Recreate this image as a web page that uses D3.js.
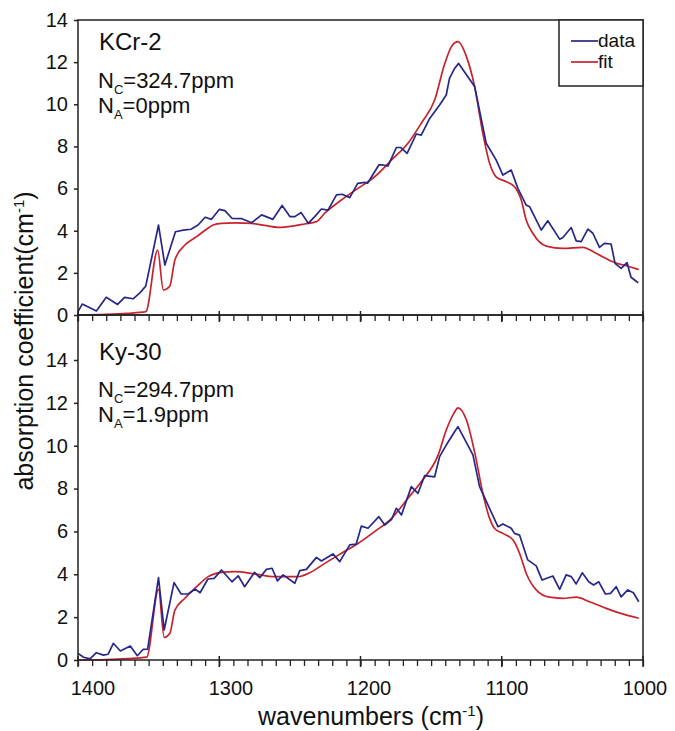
<!DOCTYPE html>
<html>
<head>
<meta charset="utf-8">
<script src="https://cdn.jsdelivr.net/npm/d3@7"></script>
<style>
  body { margin: 0; background: #fff; }
  text { font-family: "Liberation Sans", Arial, sans-serif; fill: #111; }
</style>
</head>
<body>
<div id="chart"></div>
<script>

// wavenumber ticks
var majorTicks = [1400, 1300, 1200, 1100, 1000];
var yTicks = [0, 2, 4, 6, 8, 10, 12, 14];

// KCr-2 : measured spectrum [wavenumber, absorption]
var kcr2Data = [[1400,0.16],[1397,0.52],[1387,0.19],[1380,0.84],[1372,0.5],[1367,0.84],[1361,0.77],[1356,1.06],[1352,1.38],[1343,4.27],[1338.5,2.37],[1331,3.95],[1325.5,4.03],[1320,4.07],[1315,4.27],[1310,4.64],[1305.5,4.54],[1300,5.01],[1296,4.95],[1291,4.59],[1284,4.57],[1277,4.38],[1270,4.75],[1262,4.54],[1255.5,5.2],[1250,4.67],[1246.5,4.67],[1242,4.86],[1237,4.35],[1232.4,4.67],[1227.7,5.03],[1223,4.98],[1217,5.7],[1213,5.73],[1207.6,5.57],[1202,6.25],[1197,6.29],[1195,6.25],[1187,7.12],[1184,7.12],[1180.6,7.07],[1174.6,7.95],[1171.6,7.95],[1167,7.67],[1160.5,8.59],[1157,8.54],[1151,9.33],[1144,9.97],[1139.3,10.44],[1137,11.23],[1133.4,11.7],[1130.5,11.94],[1125,11.4],[1119.2,10.84],[1111,8.15],[1104,7.36],[1099.2,6.64],[1093.3,6.88],[1088.6,6.01],[1082.7,5.22],[1080.3,5.14],[1072,4.03],[1067.4,4.47],[1059,3.6],[1056.7,3.68],[1050.8,4.15],[1047.3,3.52],[1043.8,3.48],[1039,4.08],[1035.5,3.88],[1030.8,3.21],[1027.3,3.4],[1022.6,3.37],[1019.8,2.45],[1015.5,2.21],[1011.3,2.49],[1008.5,1.79],[1003.4,1.53]];

// KCr-2 : fit
var kcr2Fit = [[1400,0],[1380,0.03],[1365,0.08],[1352,0.16],[1343.6,3.08],[1339.6,1.19],[1335,1.38],[1331.4,2.61],[1324.3,3.32],[1316,3.72],[1309,4.07],[1304.3,4.27],[1298.4,4.35],[1289,4.37],[1277,4.35],[1267.8,4.25],[1258.3,4.16],[1248,4.22],[1239.5,4.32],[1231.2,4.43],[1225.3,4.83],[1213.5,5.46],[1201.8,6.01],[1190,6.56],[1178,7.36],[1166.4,8.15],[1157,9.1],[1147.5,10.2],[1140.5,11.9],[1135,12.8],[1131,12.97],[1125,12.26],[1119.2,10.84],[1113.4,8.62],[1108.6,7.2],[1104,6.56],[1097,6.33],[1091,6.09],[1086.2,5.46],[1082.7,4.51],[1078,3.88],[1068.5,3.27],[1056.7,3.16],[1042.6,3.21],[1033,2.92],[1021.4,2.53],[1009.6,2.29],[1003,2.16]];

// Ky-30 : measured spectrum
var ky30Data = [[1400,0.31],[1396,0.13],[1391.5,0.05],[1387,0.34],[1382,0.23],[1378.6,0.27],[1375,0.78],[1370,0.42],[1363,0.65],[1358,0.2],[1353.8,0.5],[1350.7,0.51],[1343,3.84],[1339,1.4],[1332,3.61],[1327,3.08],[1322,3.08],[1317,3.31],[1313.6,3.14],[1308,3.78],[1303.6,3.81],[1298.4,4.2],[1291,3.65],[1286.6,3.93],[1282,3.42],[1275,4.09],[1271.3,3.84],[1266.6,4.23],[1262.6,4.28],[1258.8,3.69],[1254.8,3.97],[1246.5,3.58],[1243,4.17],[1238.3,4.23],[1231.2,4.79],[1227.7,4.62],[1219.5,4.95],[1214.7,4.59],[1207.6,5.37],[1203,5.41],[1199.4,6.25],[1194.7,6.15],[1187,6.69],[1182.8,6.3],[1178,6.56],[1174.6,7.08],[1171,6.77],[1164,8.09],[1159.3,7.78],[1154.6,8.6],[1147.5,8.55],[1144,9.49],[1139.3,10.03],[1133.4,10.65],[1131,10.89],[1120.4,9.57],[1115.7,8.09],[1102.7,6.22],[1099.2,6.35],[1093.3,6.15],[1091,5.91],[1087.4,5.83],[1081.6,4.67],[1075.6,4.39],[1071.4,3.73],[1063.8,3.92],[1059,3.3],[1054.4,3.97],[1050.8,3.89],[1047.3,3.55],[1043,4.07],[1038.4,3.65],[1035,3.5],[1031.3,3.65],[1026.6,3.08],[1023,3.11],[1019,3.42],[1015.5,2.95],[1010.8,3.27],[1006.8,3.14],[1003,2.72]];

// Ky-30 : fit
var ky30Fit = [[1400,0],[1380,0.02],[1365,0.06],[1351.4,0.13],[1343,3.3],[1339,1.06],[1335,1.24],[1331.4,2.33],[1324.3,2.88],[1316,3.42],[1307.8,3.89],[1298.4,4.09],[1289,4.12],[1275,4.02],[1260.7,3.89],[1244.2,3.89],[1236,4.07],[1225.3,4.51],[1213.5,4.98],[1201.8,5.44],[1190,5.99],[1178,6.61],[1166.4,7.55],[1157,8.32],[1145,9.57],[1139.3,10.73],[1134,11.5],[1131,11.77],[1125,11.2],[1119,9.64],[1113.4,7.78],[1108.6,6.61],[1105.2,6.15],[1099.2,5.91],[1092,5.6],[1087.4,4.98],[1082.7,4.05],[1075.6,3.27],[1066.3,2.93],[1056.7,2.88],[1047.3,2.93],[1038,2.72],[1026,2.41],[1014.4,2.15],[1003,1.95]];

var panels = [
    {name: "KCr-2", nc: "324.7ppm", na: "0ppm", data: kcr2Data, fit: kcr2Fit, yMax: 14, top: 20, bottom: 315},
    {name: "Ky-30", nc: "294.7ppm", na: "1.9ppm", data: ky30Data, fit: ky30Fit, yMax: 16.1, top: 315, bottom: 660}
];

var width = 675,
    height = 731,
    left = 78,
    right = 643,
    dataColor = "#27278a",
    fitColor = "#c8222c",
    axisColor = "#222";

var svg = d3.select("#chart").append("svg")
    .attr("width", width)
    .attr("height", height);

var x = d3.scaleLinear()
    .domain([1400, 1000])
    .range([left, right]);

// the tick labels in the original sit a little off their ticks
var xLabel = d3.scaleLinear()
    .domain([1400, 1000])
    .range([93, 645]);

panels.forEach(function(p, i) {
    var y = d3.scaleLinear()
        .domain([0, p.yMax])
        .range([p.bottom, p.top]);

    var g = svg.append("g").attr("class", "panel");

    var line = d3.line()
        .x(function(d) { return x(d[0]); })
        .y(function(d) { return y(d[1]); });

    g.append("path")
        .datum(p.fit)
        .attr("fill", "none")
        .attr("stroke", fitColor)
        .attr("stroke-width", 1.7)
        .attr("d", line.curve(d3.curveMonotoneX));

    g.append("path")
        .datum(p.data)
        .attr("fill", "none")
        .attr("stroke", dataColor)
        .attr("stroke-width", 1.7)
        .attr("stroke-linejoin", "round")
        .attr("d", line.curve(d3.curveLinear));

    // frame
    g.append("rect")
        .attr("x", left)
        .attr("y", p.top)
        .attr("width", right - left)
        .attr("height", p.bottom - p.top)
        .attr("fill", "none")
        .attr("stroke", axisColor)
        .attr("stroke-width", 1.5);

    var yAxis = g.append("g")
        .attr("transform", "translate(" + left + ",0)")
        .call(d3.axisLeft(y).tickValues(yTicks).tickSize(4).tickPadding(6));
    yAxis.select(".domain").remove();
    yAxis.selectAll("line").attr("stroke", axisColor).attr("stroke-width", 1.5);
    yAxis.selectAll("text")
        .style("font-size", "20px")
        .style("font-family", "'Liberation Sans', Arial, sans-serif")
        .attr("fill", "#111");

    // bottom edge ticks of the panel
    var minor = g.append("g")
        .attr("transform", "translate(0," + p.bottom + ")")
        .call(d3.axisBottom(x).tickValues(d3.range(1000, 1401, 10)).tickSize(6).tickFormat(""));
    minor.select(".domain").remove();
    minor.selectAll("line").attr("stroke", axisColor).attr("stroke-width", 1.3);

    g.selectAll(".major" + i)
        .data(majorTicks)
        .enter().append("line")
        .attr("x1", function(d) { return x(d); })
        .attr("x2", function(d) { return x(d); })
        .attr("y1", p.bottom - 4)
        .attr("y2", p.bottom + 7)
        .attr("stroke", axisColor)
        .attr("stroke-width", 1.5);

    // sample label and concentrations
    var labelTop = i == 0 ? 50 : 360;
    g.append("text")
        .attr("x", 99)
        .attr("y", labelTop)
        .style("font-size", "24px")
        .text(p.name);

    [["C", p.nc, 38], ["A", p.na, 63]].forEach(function(r) {
        var t = g.append("text")
            .attr("x", 98)
            .attr("y", labelTop + r[2] - (i == 0 ? 0 : 1))
            .style("font-size", "22px");
        t.append("tspan").text("N");
        t.append("tspan").attr("dy", 6).style("font-size", "13px").text(r[0]);
        t.append("tspan").attr("dy", -6).text("=" + r[1]);
    });
});

// x tick labels
svg.selectAll(".xlabel")
    .data(majorTicks)
    .enter().append("text")
    .attr("class", "xlabel")
    .attr("x", function(d) { return xLabel(d); })
    .attr("y", 695)
    .attr("text-anchor", "middle")
    .style("font-size", "20px")
    .text(function(d) { return d; });

// axis titles
var xt = svg.append("text")
    .attr("x", 371)
    .attr("y", 725)
    .attr("text-anchor", "middle")
    .style("font-size", "25px");
xt.append("tspan").text("wavenumbers (cm");
xt.append("tspan").attr("dy", -9).style("font-size", "15px").text("-1");
xt.append("tspan").attr("dy", 9).text(")");

var yt = svg.append("text")
    .attr("transform", "translate(33,341) rotate(-90)")
    .attr("text-anchor", "middle")
    .style("font-size", "25px");
yt.append("tspan").text("absorption coefficient(cm");
yt.append("tspan").attr("dy", -9).style("font-size", "15px").text("-1");
yt.append("tspan").attr("dy", 9).text(")");

// legend
var legend = svg.append("g");
legend.append("rect")
    .attr("x", 559)
    .attr("y", 20)
    .attr("width", right - 559)
    .attr("height", 66)
    .attr("fill", "#fff")
    .attr("stroke", axisColor)
    .attr("stroke-width", 1.5);

[["data", dataColor, 41], ["fit", fitColor, 62]].forEach(function(d) {
    legend.append("line")
        .attr("x1", 571)
        .attr("x2", 598)
        .attr("y1", d[2])
        .attr("y2", d[2])
        .attr("stroke", d[1])
        .attr("stroke-width", 1.7);
    legend.append("text")
        .attr("x", 598)
        .attr("y", d[2] + 6)
        .style("font-size", "19px")
        .text(d[0]);
});

</script>
</body>
</html>
